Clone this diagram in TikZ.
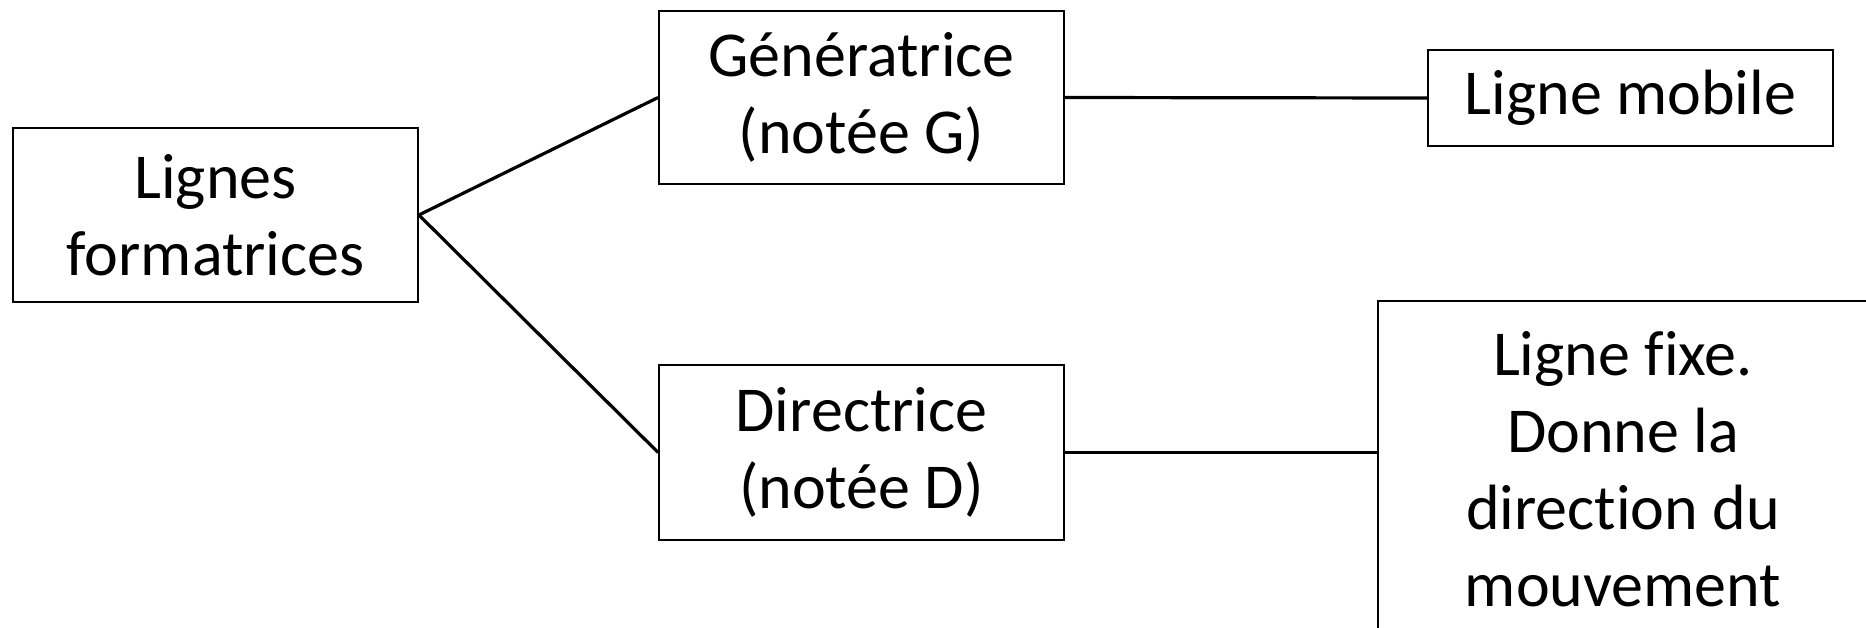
\documentclass[tikz,border=0pt]{standalone}
\usepackage{fontspec}
\setmainfont{Carlito}[Ligatures=NoCommon]
\begin{document}
\begin{tikzpicture}[x=1pt,y=-1pt,
  box/.style={draw=black,line width=1.8pt,rectangle,inner sep=0pt,align=center,
    font=\fontsize{64}{77}\selectfont},
  link/.style={draw=black,line width=3.2pt}]
\useasboundingbox (0,0) rectangle (1866,627);
\node[box,minimum width=405pt,minimum height=174pt] (lf) at (215.5,215) {Lignes\\formatrices};
\node[box,minimum width=405pt,minimum height=173pt] (gen) at (861.5,97.5) {Génératrice\\(notée G)};
\node[box,minimum width=405pt,minimum height=175pt] (dir) at (861.5,452.5) {Directrice\\(notée D)};
\node[box,minimum width=405pt,minimum height=96pt] (mob) at (1630.5,98) {Ligne mobile};
\node[box,minimum width=490pt,minimum height=336pt] (fix) at (1623,469) {Ligne fixe.\\Donne la\\direction du\\mouvement};
\draw[link] (lf.east) -- (gen.west);
\draw[link] (lf.east) -- (dir.west);
\draw[link] (gen.east) -- (mob.west);
\draw[link] (dir.east) -- (dir.east -| fix.west);
\end{tikzpicture}
\end{document}
